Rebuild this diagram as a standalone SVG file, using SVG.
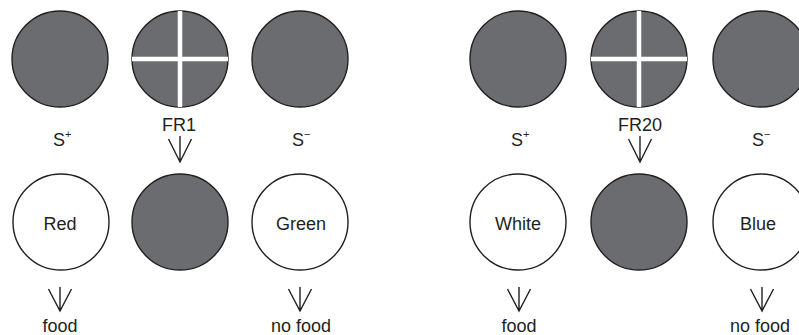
<svg xmlns="http://www.w3.org/2000/svg" width="799" height="335" viewBox="0 0 799 335">
<defs>
<style>
.g{fill:#6b6c6f;stroke:#231f20;stroke-width:1.4}
.w{fill:#fff;stroke:#231f20;stroke-width:1.4}
.x{stroke:#fff;stroke-width:4.5;fill:none}
.t{font-family:"Liberation Sans",Arial,sans-serif;font-size:18px;fill:#231f20;text-anchor:middle}
.s{font-family:"Liberation Sans",Arial,sans-serif;font-size:18px;fill:#231f20}
.sup{font-size:11px}
.a{stroke:#231f20;stroke-width:1.4;fill:none}
</style>
</defs>
<rect width="799" height="335" fill="#fff"/>
<g id="top-left-splus"><circle class="g" cx="60" cy="59" r="48"/></g>
<g id="top-left-fr"><circle class="g" cx="180" cy="59" r="48"/><path class="x" d="M180 11V107M132 59H228"/></g>
<g id="top-left-sminus"><circle class="g" cx="300" cy="59" r="48"/></g>
<g id="top-right-splus"><circle class="g" cx="518" cy="59" r="48"/></g>
<g id="top-right-fr"><circle class="g" cx="639" cy="59" r="48"/><path class="x" d="M639 11V107M591 59H687"/></g>
<g id="top-right-sminus"><circle class="g" cx="761" cy="59" r="48"/></g>
<g id="bot-red"><circle class="w" cx="61" cy="222" r="48"/><text class="t" x="60" y="230">Red</text></g>
<g id="bot-left-gray"><circle class="g" cx="180" cy="222" r="48"/></g>
<g id="bot-green"><circle class="w" cx="300" cy="222" r="48"/><text class="t" x="301" y="230">Green</text></g>
<g id="bot-white"><circle class="w" cx="518" cy="222" r="48"/><text class="t" x="518" y="230">White</text></g>
<g id="bot-right-gray"><circle class="g" cx="639" cy="222" r="48"/></g>
<g id="bot-blue"><circle class="w" cx="761" cy="222" r="48"/><text class="t" x="758" y="230">Blue</text></g>
<g id="labels">
<text class="s" x="53" y="146">S<tspan class="sup" dy="-8">+</tspan></text>
<text class="s" x="292" y="146">S<tspan class="sup" dy="-8">−</tspan></text>
<text class="s" x="511" y="146">S<tspan class="sup" dy="-8">+</tspan></text>
<text class="s" x="752" y="146">S<tspan class="sup" dy="-8">−</tspan></text>
<text class="t" x="179" y="131">FR1</text>
<text class="t" x="640" y="131">FR20</text>
<text class="t" x="60" y="332">food</text>
<text class="t" x="301" y="332">no food</text>
<text class="t" x="519" y="332">food</text>
<text class="t" x="760" y="332">no food</text>
</g>
<g id="connectors">
<path class="a" d="M180 136V162M168.5 139L180 162L191.5 139"/>
<path class="a" d="M640 136V162M628.5 139L640 162L651.5 139"/>
<path class="a" d="M60 287V311M48.5 289L60 311L71.5 289"/>
<path class="a" d="M300 287V311M288.5 289L300 311L311.5 289"/>
<path class="a" d="M519 287V311M507.5 289L519 311L530.5 289"/>
<path class="a" d="M762 287V311M750.5 289L762 311L773.5 289"/>
</g>
</svg>
